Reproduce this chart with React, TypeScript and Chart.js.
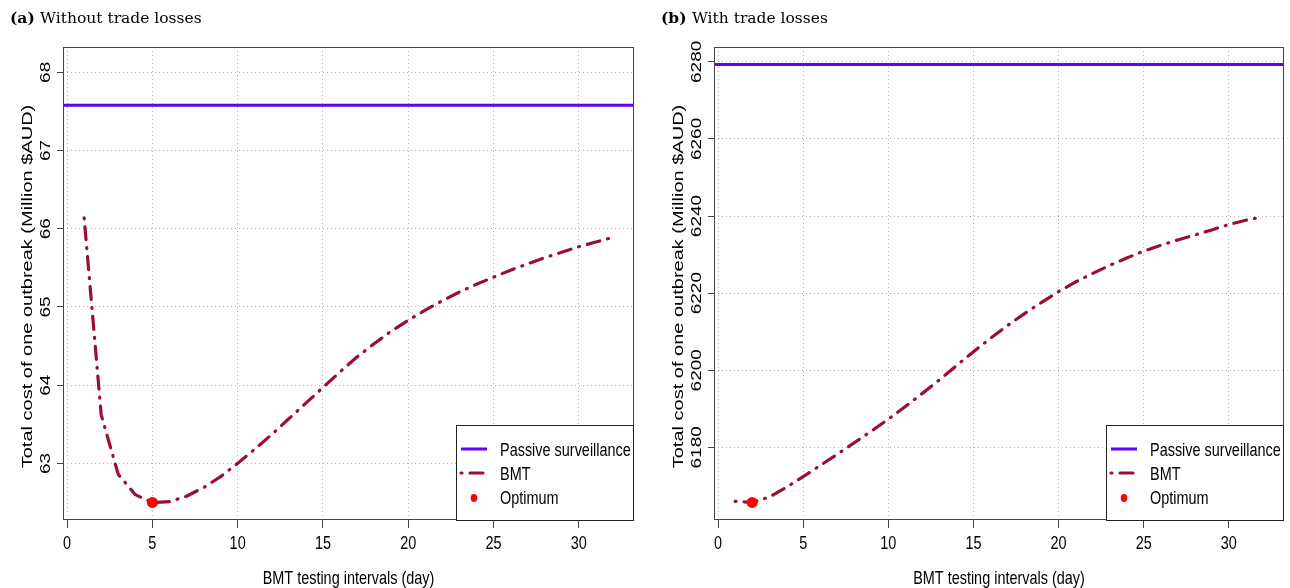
import React, { useEffect, useRef } from "react";
import { Chart, registerables } from "chart.js";

Chart.register(...registerables);

// ---------------- data ----------------
const intervals = [1, 2, 3, 4, 5, 6, 7, 8, 9, 10, 11, 12, 13, 14, 15, 16, 17, 18, 19, 20, 21, 22, 23, 24, 25, 26, 27, 28, 29, 30, 31, 32];
const bmtWithoutTrade = [66.14, 63.62, 62.86, 62.6, 62.5, 62.51, 62.58, 62.69, 62.83, 63.0, 63.18, 63.37, 63.57, 63.77, 63.97, 64.17, 64.36, 64.53, 64.69, 64.83, 64.96, 65.08, 65.19, 65.29, 65.38, 65.47, 65.55, 65.63, 65.7, 65.77, 65.83, 65.89];
const bmtWithTrade = [6166.0, 6165.7, 6167.1, 6169.6, 6172.4, 6175.3, 6178.2, 6181.2, 6184.2, 6187.3, 6190.6, 6194.0, 6197.5, 6201.2, 6204.8, 6208.3, 6211.6, 6214.7, 6217.6, 6220.4, 6222.9, 6225.1, 6227.2, 6229.1, 6230.9, 6232.4, 6233.8, 6235.1, 6236.4, 6237.8, 6238.9, 6239.8];
const passiveWithoutTrade = 67.58;
const passiveWithTrade = 6279.3;
const optimumWithoutTrade = [5, 62.5];
const optimumWithTrade = [2, 6165.7];

const xTickValues = [0, 5, 10, 15, 20, 25, 30];
const yTicksWithoutTrade = [63, 64, 65, 66, 67, 68];
const yTicksWithTrade = [6180, 6200, 6220, 6240, 6260, 6280];
const xLimits = [1, 32];
const yLimitsWithoutTrade = [62.5, 68.1];
const yLimitsWithTrade = [6165.7, 6279.3];

const seriesLabels = ["Passive surveillance", "BMT", "Optimum"];
const xAxisTitle = "BMT testing intervals (day)";
const yAxisTitle = "Total cost of one outbreak (Million $AUD)";
const panelTags = ["(a)", "(b)"];
const panelTitles = ["Without trade losses", "With trade losses"];

// ---------------- styling ----------------
const SANS = "'Liberation Sans', Arial, Helvetica, sans-serif";
const SERIF = "'DejaVu Serif', 'Liberation Serif', serif";
const FS = 19;
const FS_YTITLE = 20;
const COND = 0.76;
const PASSIVE_COLOR = "#6200FF";
const BMT_COLOR = "#9B1031";
const OPT_COLOR = "#FF0000";
const FRAME = "#444444";
const GRID = "#b4b4b4";

const extend = (lim: number[]) => {
  const r = lim[1] - lim[0];
  return [lim[0] - 0.04 * r, lim[1] + 0.04 * r];
};

function condText(ctx: CanvasRenderingContext2D, text: string, x: number, y: number, align: CanvasTextAlign, rotate = false) {
  ctx.save();
  ctx.translate(x, y);
  ctx.scale(COND, 1);
  if (rotate) ctx.rotate(-Math.PI / 2);
  ctx.textAlign = align;
  ctx.textBaseline = "alphabetic";
  ctx.fillText(text, 0, 0);
  ctx.restore();
}

const decorPlugin = {
  id: "rDecor",
  afterDraw(chart: any, _args: any, opts: any) {
    const ctx: CanvasRenderingContext2D = chart.ctx;
    const { left, right, top, bottom } = chart.chartArea;
    const xs = chart.scales.x;
    const ys = chart.scales.y;

    // frame
    ctx.save();
    ctx.strokeStyle = FRAME;
    ctx.lineWidth = 1;
    ctx.strokeRect(left + 0.5, top + 0.5, right - left - 1, bottom - top - 1);
    ctx.restore();

    // tick labels
    ctx.save();
    ctx.fillStyle = "#000";
    ctx.font = `${FS}px ${SANS}`;
    xs.ticks.forEach((t: any) => {
      condText(ctx, String(t.value), xs.getPixelForValue(t.value), 549, "center");
    });
    ys.ticks.forEach((t: any) => {
      condText(ctx, String(t.value), left - 13, ys.getPixelForValue(t.value), "center", true);
    });
    // axis titles
    condText(ctx, opts.xTitle, (left + right) / 2, 584, "center");
    ctx.font = `${FS_YTITLE}px ${SANS}`;
    condText(ctx, opts.yTitle, left - 31, (top + bottom) / 2 + 3, "center", true);
    ctx.restore();

    // panel title
    ctx.save();
    ctx.fillStyle = "#000";
    ctx.textBaseline = "alphabetic";
    ctx.textAlign = "left";
    ctx.font = `bold 15.5px ${SERIF}`;
    const tag = opts.tag + " ";
    ctx.fillText(tag, opts.titleX, 23);
    const w = ctx.measureText(tag).width;
    ctx.font = `15.5px ${SERIF}`;
    ctx.fillText(opts.title, opts.titleX + w, 23);
    ctx.restore();

    // legend
    const bw = 178, bh = 95;
    const bx = right - bw, by = bottom - bh;
    ctx.save();
    ctx.fillStyle = "#fff";
    ctx.fillRect(bx, by, bw, bh);
    ctx.strokeStyle = "#222";
    ctx.lineWidth = 1;
    ctx.strokeRect(bx + 0.5, by + 0.5, bw - 1, bh);
    chart.data.datasets.forEach((ds: any, i: number) => {
      const cy = by + 24 + 24 * i;
      if (ds.showLine === false) {
        ctx.fillStyle = ds.backgroundColor;
        ctx.beginPath();
        ctx.ellipse(bx + 18, cy + 1, 3.3, 4, 0, 0, Math.PI * 2);
        ctx.fill();
      } else {
        ctx.strokeStyle = ds.borderColor;
        ctx.lineWidth = ds.borderWidth;
        ctx.lineCap = ds.borderCapStyle || "butt";
        ctx.setLineDash(ds.borderDash || []);
        ctx.beginPath();
        ctx.moveTo(bx + 5, cy);
        ctx.lineTo(bx + 31, cy);
        ctx.stroke();
        ctx.setLineDash([]);
      }
      ctx.fillStyle = "#000";
      ctx.font = `${FS}px ${SANS}`;
      condText(ctx, ds.label, bx + 44, cy + 7, "left");
    });
    ctx.restore();
  },
};

type PanelProps = {
  bmt: number[];
  passive: number;
  optimum: number[];
  yTicks: number[];
  yLimits: number[];
  tag: string;
  title: string;
  width: number;
  axisWidth: number;
  padRight: number;
  titleX: number;
};

function Panel(p: PanelProps) {
  const ref = useRef<HTMLCanvasElement>(null);
  useEffect(() => {
    if (!ref.current) return;
    const [xMin, xMax] = extend(xLimits);
    const [yMin, yMax] = extend(p.yLimits);
    const chart = new Chart(ref.current, {
      type: "line",
      data: {
        datasets: [
          {
            label: seriesLabels[0],
            data: [
              { x: xMin, y: p.passive },
              { x: xMax, y: p.passive },
            ],
            borderColor: PASSIVE_COLOR,
            backgroundColor: PASSIVE_COLOR,
            borderWidth: 3,
            pointRadius: 0,
            order: 2,
          },
          {
            label: seriesLabels[1],
            data: intervals.map((x, i) => ({ x, y: p.bmt[i] })),
            borderColor: BMT_COLOR,
            backgroundColor: BMT_COLOR,
            borderWidth: 3.2,
            borderDash: [1, 8, 13, 8],
            borderCapStyle: "round",
            borderJoinStyle: "round",
            pointRadius: 0,
            tension: 0,
            order: 1,
          },
          {
            label: seriesLabels[2],
            data: [{ x: p.optimum[0], y: p.optimum[1] }],
            showLine: false,
            borderColor: OPT_COLOR,
            backgroundColor: OPT_COLOR,
            pointRadius: 5.5,
            pointBorderWidth: 0,
            order: 0,
          },
        ] as any,
      },
      options: {
        animation: false,
        responsive: false,
        events: [],
        layout: { padding: { top: 47, left: 0, right: p.padRight, bottom: 0 } },
        plugins: {
          legend: { display: false },
          title: { display: false },
          tooltip: { enabled: false },
          rDecor: { xTitle: xAxisTitle, yTitle: yAxisTitle, tag: p.tag, title: p.title, titleX: p.titleX },
        } as any,
        scales: {
          x: {
            type: "linear",
            min: xMin,
            max: xMax,
            afterBuildTicks: (s: any) => {
              s.ticks = xTickValues.map((v) => ({ value: v }));
            },
            afterFit: (s: any) => {
              s.height = 68;
            },
            ticks: { display: false },
            grid: {
              color: GRID,
              lineWidth: 1,
              drawTicks: true,
              tickLength: 8,
              tickColor: FRAME,
              tickWidth: 1,
              tickBorderDash: [],
            },
            border: { display: false, dash: [1, 3] },
          },
          y: {
            type: "linear",
            min: yMin,
            max: yMax,
            afterBuildTicks: (s: any) => {
              s.ticks = p.yTicks.map((v) => ({ value: v }));
            },
            afterFit: (s: any) => {
              s.width = p.axisWidth;
            },
            ticks: { display: false },
            grid: {
              color: GRID,
              lineWidth: 1,
              drawTicks: true,
              tickLength: 6,
              tickColor: FRAME,
              tickWidth: 1,
              tickBorderDash: [],
            },
            border: { display: false, dash: [1, 3] },
          },
        } as any,
      },
      plugins: [decorPlugin],
    });
    return () => chart.destroy();
  }, []);
  return <canvas ref={ref} width={p.width} height={588} style={{ display: "block" }} />;
}

export default function App() {
  return (
    <div style={{ position: "fixed", left: 0, top: 0, width: 1290, height: 588, background: "#fff", overflow: "hidden" }}>
      <div style={{ position: "absolute", left: 0, top: 0 }}>
        <Panel
          bmt={bmtWithoutTrade}
          passive={passiveWithoutTrade}
          optimum={optimumWithoutTrade}
          yTicks={yTicksWithoutTrade}
          yLimits={yLimitsWithoutTrade}
          tag={panelTags[0]}
          title={panelTitles[0]}
          width={645}
          axisWidth={63}
          padRight={11}
          titleX={10}
        />
      </div>
      <div style={{ position: "absolute", left: 650, top: 0 }}>
        <Panel
          bmt={bmtWithTrade}
          passive={passiveWithTrade}
          optimum={optimumWithTrade}
          yTicks={yTicksWithTrade}
          yLimits={yLimitsWithTrade}
          tag={panelTags[1]}
          title={panelTitles[1]}
          width={640}
          axisWidth={64}
          padRight={6}
          titleX={11}
        />
      </div>
    </div>
  );
}
